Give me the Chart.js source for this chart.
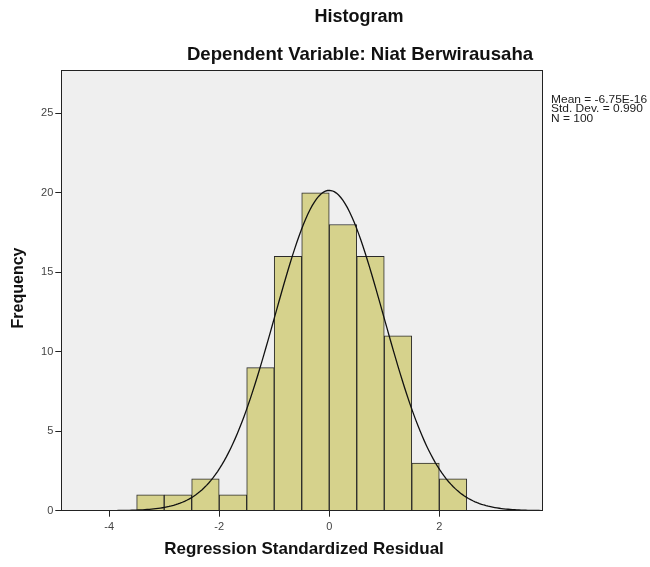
<!DOCTYPE html>
<html>
<head>
<meta charset="utf-8">
<script src="https://cdn.jsdelivr.net/npm/chart.js@4/dist/chart.umd.min.js"></script>
<style>
  html, body { margin: 0; padding: 0; background: #fff; }
  canvas { display: block; }
</style>
</head>
<body>
<canvas id="hist" width="650" height="567"></canvas>
<script>
(function(){
  // histogram bins (centres) and counts
  var BIN_CENTERS = [-3.25, -2.75, -2.25, -1.75, -1.25, -0.75, -0.25, 0.25, 0.75, 1.25, 1.75, 2.25];
  var BIN_COUNTS  = [1, 1, 2, 1, 9, 16, 20, 18, 16, 11, 3, 2];
  var BIN_WIDTH = 0.5;

  // stats shown in the legend box; normal curve is drawn from these
  var MEAN = -6.75e-16, STD_DEV = 0.990, N = 100;
  var STATS_TEXT = ["Mean = -6.75E-16", "Std. Dev. = 0.990", "N = 100"];

  var X_TICKS = [-4, -2, 0, 2];
  var Y_TICKS = [0, 5, 10, 15, 20, 25];
  var X_MIN = -4.87, X_MAX = 3.88, Y_MAX = 27.7;

  var TITLE = "Histogram";
  var SUBTITLE = "Dependent Variable: Niat Berwirausaha";
  var X_TITLE = "Regression Standardized Residual";
  var Y_TITLE = "Frequency";

  var FONT = "'Liberation Sans', Arial, sans-serif";

  var bars = BIN_CENTERS.map(function(c, i){ return { x: c, y: BIN_COUNTS[i] }; });

  // normal density scaled to counts
  var curve = [];
  for (var x = X_MIN; x <= X_MAX + 1e-9; x += 0.04) {
    var z = (x - MEAN) / STD_DEV;
    curve.push({ x: x, y: N * BIN_WIDTH * Math.exp(-0.5 * z * z) / (STD_DEV * Math.sqrt(2 * Math.PI)) });
  }

  var frame = {
    id: "frame",
    beforeDatasetsDraw: function(chart){
      var a = chart.chartArea, ctx = chart.ctx;
      ctx.save();
      ctx.fillStyle = "#efefef";
      ctx.fillRect(a.left, a.top, a.right - a.left, a.bottom - a.top);
      ctx.restore();
    },
    afterDraw: function(chart){
      var a = chart.chartArea, ctx = chart.ctx;
      ctx.save();
      ctx.strokeStyle = "#222";
      ctx.lineWidth = 1;
      ctx.strokeRect(Math.round(a.left) + 0.5, Math.round(a.top) + 0.5, Math.round(a.right - a.left), Math.round(a.bottom - a.top));

      ctx.fillStyle = "#111";
      ctx.textAlign = "center";
      ctx.textBaseline = "alphabetic";
      ctx.font = "bold 18px " + FONT;
      ctx.fillText(TITLE, 359, 22);
      ctx.font = "bold 18.6px " + FONT;
      ctx.fillText(SUBTITLE, 360, 60);

      ctx.font = "bold 17px " + FONT;
      ctx.fillText(X_TITLE, 304, 554);

      ctx.save();
      ctx.translate(23, 288);
      ctx.rotate(-Math.PI / 2);
      ctx.font = "bold 16px " + FONT;
      ctx.fillText(Y_TITLE, 0, 0);
      ctx.restore();

      // stats block, slightly stretched like the source
      ctx.textAlign = "left";
      ctx.font = "10.5px " + FONT;
      ctx.fillStyle = "#222";
      STATS_TEXT.forEach(function(t, i){
        ctx.save();
        ctx.translate(551, 102.5 + i * 9.5);
        ctx.scale(1.14, 1);
        ctx.fillText(t, 0, 0);
        ctx.restore();
      });
      ctx.restore();
    }
  };

  new Chart(document.getElementById("hist"), {
    type: "bar",
    data: {
      datasets: [
        {
          type: "line",
          data: curve,
          borderColor: "#111",
          borderWidth: 1.3,
          pointRadius: 0,
          tension: 0,
          order: 0
        },
        {
          data: bars,
          backgroundColor: "#d6d28c",
          borderColor: "#2a2a2a",
          borderWidth: 1,
          barPercentage: 1,
          categoryPercentage: 1,
          order: 1
        }
      ]
    },
    options: {
      responsive: false,
      animation: false,
      layout: { padding: { top: 70.3, right: 107.3, left: 0, bottom: 0 } },
      plugins: { legend: { display: false }, tooltip: { enabled: false } },
      scales: {
        x: {
          type: "linear",
          offset: false,
          min: X_MIN, max: X_MAX,
          afterBuildTicks: function(s){ s.ticks = X_TICKS.map(function(v){ return { value: v }; }); },
          afterFit: function(s){ s.height = 56.3; },
          border: { display: false },
          grid: { offset: false, drawOnChartArea: false, tickLength: 6, color: "#222" },
          ticks: { color: "#444", font: { family: FONT, size: 11 }, padding: 4, maxRotation: 0 }
        },
        y: {
          min: 0, max: Y_MAX,
          afterBuildTicks: function(s){ s.ticks = Y_TICKS.map(function(v){ return { value: v }; }); },
          afterFit: function(s){ s.width = 61.3; },
          border: { display: false },
          grid: { offset: false, drawOnChartArea: false, tickLength: 6, color: "#222" },
          ticks: { color: "#444", font: { family: FONT, size: 11 }, padding: 2 }
        }
      }
    },
    plugins: [frame]
  });
})();
</script>
</body>
</html>
